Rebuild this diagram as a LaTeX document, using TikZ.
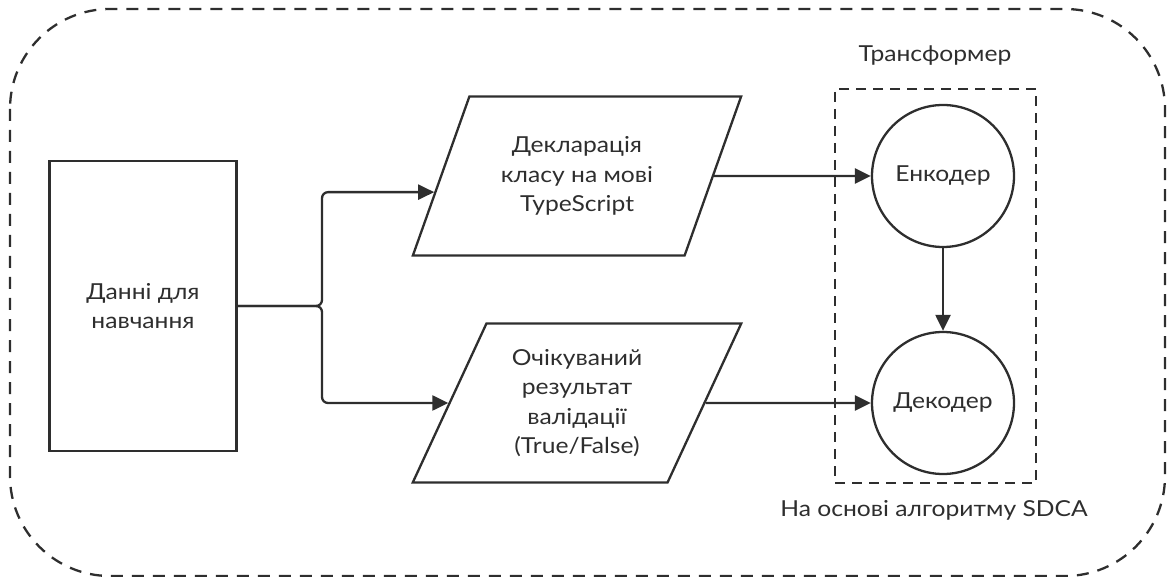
\documentclass[tikz,border=0pt]{standalone}
\usepackage{fontspec}
\setmainfont{Lato}[FakeStretch=1.12]
\usetikzlibrary{shapes.geometric, arrows.meta, positioning, calc}

\begin{document}
\begin{tikzpicture}[x=1pt, y=-1pt, line width=2.3pt, color=black!82,
    font=\fontsize{22}{29.5}\selectfont,
    box/.style={draw, minimum width=187pt, minimum height=290pt, align=center},
    para/.style={draw, trapezium, trapezium left angle=64, trapezium right angle=116,
      trapezium stretches=true, minimum width=329pt, minimum height=159pt, align=center},
    unit/.style={draw, circle, minimum size=142pt, inner sep=0pt},
    arr/.style={-{Triangle[length=16pt, width=15pt]}},
  ]
  \useasboundingbox (0,0) rectangle (1167,577);
  \draw[dash pattern=on 12pt off 9pt, rounded corners=100pt] (10,9) rectangle (1165,576);

  \node[box] (data) at (143,306) {Данні для\\навчання};
  \node[para] (decl) at (577,176) {Декларація\\класу на мові\\TypeScript};
  \node[para] (expect) at (577,403) {Очікуваний\\результат\\валідації\\(True/False)};
  \node[unit] (enc) at (943,176) {Енкодер};
  \node[unit] (dec) at (943,403) {Декодер};
  \node[draw, dash pattern=on 10pt off 7pt, minimum width=201pt, minimum height=394pt] (trans) at (935.5,286) {};
  \node (transname) at (935,56) {Трансформер};
  \node (algname) at (934,510) {На основі алгоритму SDCA};

  \coordinate (split) at (322,306);
  \coordinate (in1) at ($(decl.bottom left corner)!0.4!(decl.top left corner)$);
  \draw[arr, rounded corners=6pt] (data.east) -- (split) |- (in1);
  \draw[arr, rounded corners=6pt] (data.east) -- (split) |- (expect.west);
  \draw[arr] (decl.east) -- (enc.west);
  \draw[arr] (expect.east) -- (dec.west);
  \draw[arr] (enc) -- (dec);
\end{tikzpicture}
\end{document}
